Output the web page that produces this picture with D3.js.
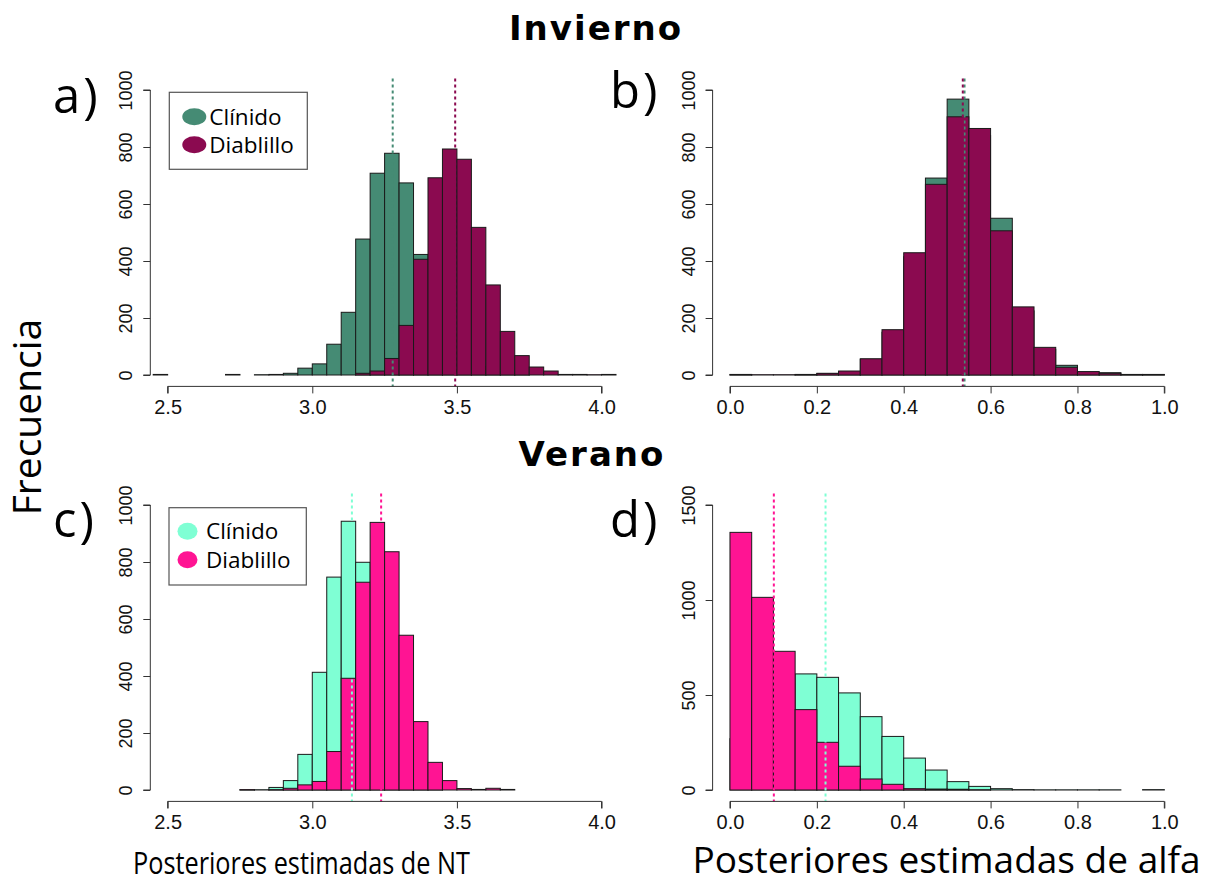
<!DOCTYPE html>
<html>
<head>
<meta charset="utf-8">
<script src="https://cdn.jsdelivr.net/npm/d3@7"></script>
<style>
  html, body { margin: 0; padding: 0; background: #fff; }
  svg { display: block; }
</style>
</head>
<body>
<svg id="chart" width="1210" height="883"></svg>
<script>
// ---- Data: histogram counts of posterior draws (bin width 0.05) ----
const binWidth = 0.05;

// Invierno, NT (panel a)
const ntWinterClinidoStart = 2.45;
const ntWinterClinido = [2, 0, 0, 0, 0, 2, 0, 1, 2, 6, 24, 39, 108, 220, 477, 708, 778, 674, 423, 270, 150, 70, 30, 12, 4, 1];
const ntWinterDiablilloStart = 3.15;
const ntWinterDiablillo = [6, 14, 58, 174, 406, 692, 793, 757, 518, 316, 153, 68, 28, 14, 2, 2, 1, 2];

// Invierno, alfa (panel b)
const alfaWinterClinidoStart = 0.0;
const alfaWinterClinido = [1, 0, 0, 1, 5, 12, 55, 150, 415, 691, 968, 840, 550, 225, 90, 34, 10, 8, 1, 1];
const alfaWinterDiablilloStart = 0.0;
const alfaWinterDiablillo = [2, 1, 1, 2, 6, 14, 57, 159, 429, 669, 906, 865, 506, 239, 97, 27, 12, 6, 2, 2];

// Verano, NT (panel c)
const ntSummerClinidoStart = 2.75;
const ntSummerClinido = [1, 1, 9, 33, 125, 413, 747, 943, 799, 560, 250, 90, 25, 5];
const ntSummerDiablilloStart = 2.75;
const ntSummerDiablillo = [1, 0, 1, 6, 18, 30, 135, 392, 729, 939, 836, 543, 240, 97, 33, 5, 2, 6, 2];

// Verano, alfa (panel d)
const alfaSummerClinidoStart = 0.0;
const alfaSummerClinido = [270, 430, 560, 611, 593, 511, 386, 282, 168, 105, 44, 19, 7, 2, 1, 1, 1, 1, 0, 2];
const alfaSummerDiablilloStart = 0.0;
const alfaSummerDiablillo = [1356, 1014, 730, 423, 251, 125, 58, 30, 7, 5, 4, 1, 0, 0, 0, 0, 0, 0, 0, 0];

// Posterior means (dotted reference lines)
const meanNtWinter = { clinido: 3.278, diablillo: 3.494 };
const meanAlfaWinter = { clinido: 0.540, diablillo: 0.536 };
const meanNtSummer = { clinido: 3.137, diablillo: 3.238 };
const meanAlfaSummer = { clinido: 0.220, diablillo: 0.101 };

// Axis ticks
const ntTicks = [2.5, 3.0, 3.5, 4.0];
const alfaTicks = [0.0, 0.2, 0.4, 0.6, 0.8, 1.0];
const countTicks1000 = [0, 200, 400, 600, 800, 1000];
const countTicks1500 = [0, 500, 1000, 1500];

// Legend
const speciesNames = ["Clínido", "Diablillo"];

// ---- Styling ----
const winterColors = { clinido: "#458B74", diablillo: "#8B0A50" };
const summerColors = { clinido: "#7FFFD4", diablillo: "#FF1493" };

const svg = d3.select("#chart");

function toBins(start, counts) {
  return counts.map((c, i) => ({ x0: start + i * binWidth, x1: start + (i + 1) * binWidth, n: c }));
}

// R-style plot: limits expanded 4% on each side into the plot region
function panel(opt) {
  const xr = opt.xlim[1] - opt.xlim[0];
  const yr = opt.ylim[1] - opt.ylim[0];
  const x = d3.scaleLinear()
    .domain([opt.xlim[0] - 0.04 * xr, opt.xlim[1] + 0.04 * xr])
    .range([opt.left, opt.right]);
  const y = d3.scaleLinear()
    .domain([opt.ylim[0] - 0.04 * yr, opt.ylim[1] + 0.04 * yr])
    .range([opt.bottom, opt.top]);

  const g = svg.append("g");

  // histograms: Clínido first, Diablillo on top
  opt.series.forEach(s => {
    g.append("g").selectAll("rect")
      .data(toBins(s.start, s.counts).filter(d => d.n > 0))
      .join("rect")
      .attr("x", d => x(d.x0))
      .attr("y", d => y(d.n))
      .attr("width", d => x(d.x1) - x(d.x0))
      .attr("height", d => y(0) - y(d.n))
      .attr("fill", s.color)
      .attr("stroke", "#1a1a1a")
      .attr("stroke-width", 1);
  });

  // dotted mean lines
  opt.means.forEach(m => {
    g.append("line")
      .attr("x1", x(m.value)).attr("x2", x(m.value))
      .attr("y1", opt.top).attr("y2", opt.bottom)
      .attr("stroke", m.color)
      .attr("stroke-width", 2)
      .attr("stroke-dasharray", "3,3");
  });

  // x axis at bottom of plot region
  const xAxis = d3.axisBottom(x)
    .tickValues(opt.xticks)
    .tickFormat(d3.format(".1f"))
    .tickSize(7)
    .tickPadding(6);
  const gx = g.append("g")
    .attr("transform", `translate(0,${opt.bottom})`)
    .call(xAxis);
  gx.select(".domain")
    .attr("d", `M${x(opt.xticks[0])},7V0H${x(opt.xticks[opt.xticks.length - 1])}V7`);
  gx.selectAll("line").attr("stroke", "#333");
  gx.select(".domain").attr("stroke", "#333");
  gx.selectAll("text")
    .attr("font-family", "'Liberation Sans', Arial, sans-serif")
    .attr("font-size", 20)
    .attr("fill", "#111");

  // y axis at left of plot region, labels parallel to axis
  const yAxis = d3.axisLeft(y)
    .tickValues(opt.yticks)
    .tickFormat(d3.format("d"))
    .tickSize(7)
    .tickPadding(0);
  const gy = g.append("g")
    .attr("transform", `translate(${opt.left},0)`)
    .call(yAxis);
  gy.select(".domain")
    .attr("d", `M-7,${y(opt.yticks[0])}H0V${y(opt.yticks[opt.yticks.length - 1])}H-7`)
    .attr("stroke", "#333");
  gy.selectAll("line").attr("stroke", "#333");
  gy.selectAll(".tick text")
    .attr("x", 0).attr("dy", null)
    .attr("transform", "translate(-24,0) rotate(-90)")
    .attr("text-anchor", "middle")
    .attr("dominant-baseline", "central")
    .attr("font-family", "'Liberation Sans', Arial, sans-serif")
    .attr("font-size", 18)
    .attr("fill", "#111");

  // legend
  if (opt.legend) {
    const L = opt.legend;
    const lg = svg.append("g");
    lg.append("rect")
      .attr("x", L.x).attr("y", L.y).attr("width", L.w).attr("height", L.h)
      .attr("fill", "#fff").attr("stroke", "#555").attr("stroke-width", 1.2);
    speciesNames.forEach((name, i) => {
      const cy = L.y + L.firstRow + i * L.rowGap;
      lg.append("ellipse")
        .attr("cx", L.x + L.markerX).attr("cy", cy)
        .attr("rx", L.rx).attr("ry", 8.5)
        .attr("fill", i === 0 ? opt.colors.clinido : opt.colors.diablillo);
      lg.append("text")
        .attr("x", L.x + L.textX).attr("y", cy)
        .attr("dy", "0.36em")
        .attr("font-family", "'Open Sans', sans-serif")
        .attr("font-size", 22.5)
        .attr("fill", "#000")
        .text(name);
    });
  }

  // panel letter
  svg.append("text")
    .attr("x", opt.letter.x).attr("y", opt.letter.y)
    .attr("font-family", "'Open Sans', sans-serif")
    .attr("font-size", 49)
    .attr("letter-spacing", 3)
    .attr("fill", "#000")
    .text(opt.letter.text);
}

// a) Invierno NT
panel({
  left: 150.3, right: 618.9, top: 78.6, bottom: 386.4,
  xlim: [2.5, 4.0], ylim: [0, 1000],
  xticks: ntTicks, yticks: countTicks1000,
  colors: winterColors,
  series: [
    { start: ntWinterClinidoStart, counts: ntWinterClinido, color: winterColors.clinido },
    { start: ntWinterDiablilloStart, counts: ntWinterDiablillo, color: winterColors.diablillo }
  ],
  means: [
    { value: meanNtWinter.clinido, color: winterColors.clinido },
    { value: meanNtWinter.diablillo, color: winterColors.diablillo }
  ],
  legend: { x: 169.3, y: 92.3, w: 138, h: 77, markerX: 25, textX: 40, rx: 12, firstRow: 24.5, rowGap: 28 },
  letter: { x: 53, y: 113, text: "a)" }
});

// b) Invierno alfa
panel({
  left: 712.6, right: 1181.7, top: 78.6, bottom: 386.4,
  xlim: [0, 1], ylim: [0, 1000],
  xticks: alfaTicks, yticks: countTicks1000,
  colors: winterColors,
  series: [
    { start: alfaWinterClinidoStart, counts: alfaWinterClinido, color: winterColors.clinido },
    { start: alfaWinterDiablilloStart, counts: alfaWinterDiablillo, color: winterColors.diablillo }
  ],
  means: [
    { value: meanAlfaWinter.clinido, color: winterColors.clinido },
    { value: meanAlfaWinter.diablillo, color: winterColors.diablillo }
  ],
  letter: { x: 610, y: 108, text: "b)" }
});

// c) Verano NT
panel({
  left: 150.3, right: 618.9, top: 493.6, bottom: 801.4,
  xlim: [2.5, 4.0], ylim: [0, 1000],
  xticks: ntTicks, yticks: countTicks1000,
  colors: summerColors,
  series: [
    { start: ntSummerClinidoStart, counts: ntSummerClinido, color: summerColors.clinido },
    { start: ntSummerDiablilloStart, counts: ntSummerDiablillo, color: summerColors.diablillo }
  ],
  means: [
    { value: meanNtSummer.clinido, color: summerColors.clinido },
    { value: meanNtSummer.diablillo, color: summerColors.diablillo }
  ],
  legend: { x: 169, y: 507.7, w: 137.3, h: 77.3, markerX: 18.5, textX: 37, rx: 10, firstRow: 23.5, rowGap: 28.5 },
  letter: { x: 53, y: 537, text: "c)" }
});

// d) Verano alfa
panel({
  left: 712.6, right: 1181.7, top: 493.6, bottom: 801.4,
  xlim: [0, 1], ylim: [0, 1500],
  xticks: alfaTicks, yticks: countTicks1500,
  colors: summerColors,
  series: [
    { start: alfaSummerClinidoStart, counts: alfaSummerClinido, color: summerColors.clinido },
    { start: alfaSummerDiablilloStart, counts: alfaSummerDiablillo, color: summerColors.diablillo }
  ],
  means: [
    { value: meanAlfaSummer.clinido, color: summerColors.clinido },
    { value: meanAlfaSummer.diablillo, color: summerColors.diablillo }
  ],
  letter: { x: 610, y: 537, text: "d)" }
});

// ---- Titles and axis titles ----
svg.append("text")
  .attr("x", 596).attr("y", 40)
  .attr("text-anchor", "middle")
  .attr("font-family", "'DejaVu Sans', Verdana, sans-serif")
  .attr("font-weight", "bold")
  .attr("font-size", 34)
  .attr("letter-spacing", 2)
  .text("Invierno");

svg.append("text")
  .attr("x", 592).attr("y", 466)
  .attr("text-anchor", "middle")
  .attr("font-family", "'DejaVu Sans', Verdana, sans-serif")
  .attr("font-weight", "bold")
  .attr("font-size", 34)
  .attr("letter-spacing", 2)
  .text("Verano");

svg.append("text")
  .attr("transform", "translate(41,417) rotate(-90)")
  .attr("text-anchor", "middle")
  .attr("font-family", "'Open Sans', sans-serif")
  .attr("font-size", 39)
  .text("Frecuencia");

svg.append("text")
  .attr("x", 133).attr("y", 874)
  .attr("font-family", "'Open Sans', sans-serif")
  .attr("font-size", 31)
  .attr("textLength", 337)
  .attr("lengthAdjust", "spacingAndGlyphs")
  .text("Posteriores estimadas de NT");

svg.append("text")
  .attr("x", 946.5).attr("y", 873)
  .attr("text-anchor", "middle")
  .attr("font-family", "'Open Sans', sans-serif")
  .attr("font-size", 37)
  .text("Posteriores estimadas de alfa");
</script>
</body>
</html>
